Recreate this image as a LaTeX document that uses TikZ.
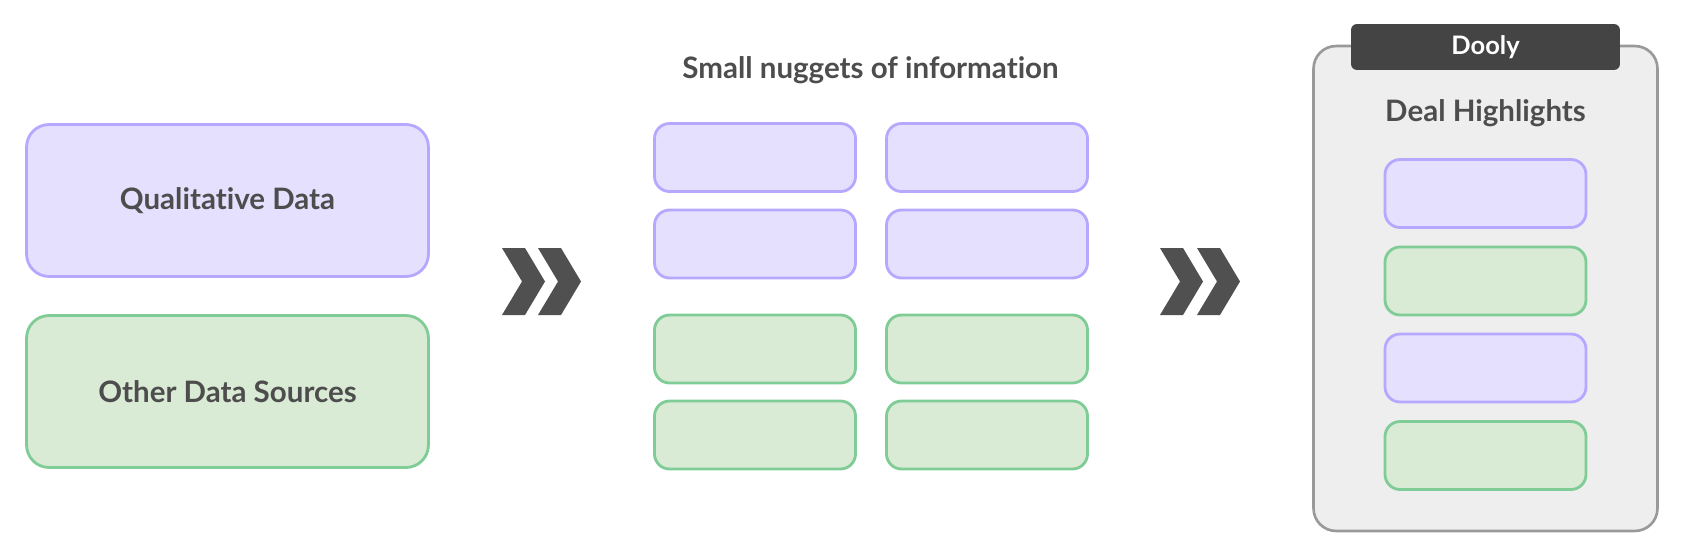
\documentclass[tikz,border=0pt]{standalone}
\usepackage{fontspec}
\setmainfont{Lato}[Ligatures=NoCommon]
\usepackage{tikz}
\definecolor{lilac}{RGB}{230,224,255}
\definecolor{lilacline}{RGB}{180,168,255}
\definecolor{mint}{RGB}{217,234,213}
\definecolor{mintline}{RGB}{128,204,150}
\definecolor{panel}{RGB}{238,238,238}
\definecolor{panelline}{RGB}{153,153,153}
\definecolor{tab}{RGB}{68,68,68}
\definecolor{ink}{RGB}{77,77,77}
\definecolor{chev}{RGB}{80,80,80}
\usetikzlibrary{positioning}
\tikzset{%
  card/.style={draw, rectangle, line width=1.6pt},
  qual/.style={card, fill=lilac, draw=lilacline},% qualitative data
  other/.style={card, fill=mint, draw=mintline},% other sources
  source/.style={minimum width=8.04cm, minimum height=3.04cm, rounded corners=0.45cm},
  nugget/.style={minimum width=4.02cm, minimum height=1.36cm, rounded corners=0.3cm},
  label/.style={font=\bfseries\fontsize{16.8}{19}\selectfont, text=ink}% titles
}
\newcommand*{\chevron}[1]{
  \fill[chev] (#1) -- ++(23,0) -- ++(20,33.5) -- ++(-20,33.5) -- ++(-23,0)
    -- ++(20,-33.5) -- cycle;}

\begin{document}
\begin{tikzpicture}[x=0.02cm, y=-0.02cm]

\useasboundingbox (0,0) rectangle (1684,558);

\node[qual, source, label] (qd) at (227.5,200.5) {Qualitative Data};
\node[other, source, label] (od) at (227.5,391.5) {Other Data Sources};

\coordinate (c1) at (502,248);
\coordinate (c2) at (538,248);
\chevron{c1}
\chevron{c2}

\node[label] (title) at (870.5,70) {Small nuggets of information};
\foreach \x [count=\c] in {755,987} {
  \foreach \y/\s [count=\r] in {157.5/qual, 244/qual, 349/other, 435/other}
    \node[\s, nugget] (nug\c\r) at (\x,\y) {};
}

\coordinate (c3) at (1160,248);
\coordinate (c4) at (1197,248);
\chevron{c3}
\chevron{c4}

\node[draw=panelline, fill=panel, line width=1.5pt, rounded corners=0.45cm,
  minimum width=6.88cm, minimum height=9.7cm] (dooly) at (1485.5,288.5) {};
\node[fill=tab, rounded corners=0.12cm, minimum width=5.38cm, minimum height=0.92cm,
  text=white, font=\bfseries\fontsize{14.5}{16}\selectfont] (tab) at (1485.5,47) {Dooly};
\node[label] (deal) at (1485.5,113) {Deal Highlights};
\foreach \y/\s [count=\r] in {193.5/qual, 281/other, 368/qual, 455.5/other}
  \node[\s, nugget] (hl\r) at (1485.5,\y) {};

\end{tikzpicture}
\end{document}
